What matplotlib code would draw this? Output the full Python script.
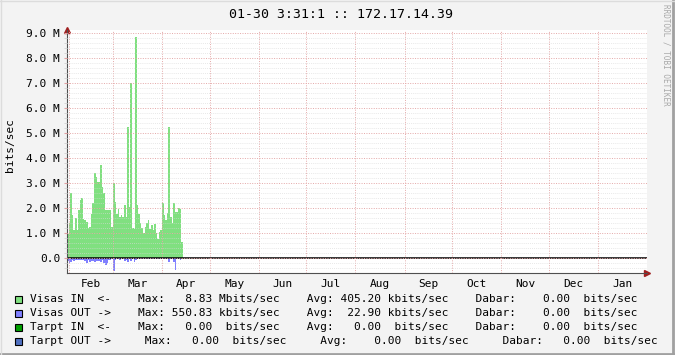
import numpy as np
import matplotlib
matplotlib.use('Agg')
import matplotlib.pyplot as plt
from matplotlib.ticker import MultipleLocator, FuncFormatter, FixedLocator
from matplotlib.lines import Line2D

# daily traffic, Mbit/s, starting 01-31
visas_in = [0.95, 1.4, 2.6, 1.7, 1.1, 1.6, 1.1, 1.9, 2.3, 2.4,
            1.55, 1.5, 1.45, 1.2, 1.25, 1.75, 2.2, 3.4, 3.25, 3.05,
            3.05, 3.7, 2.85, 2.6, 1.9, 1.9, 1.9, 1.9, 1.25, 3.0,
            2.25, 1.75, 1.95, 1.65, 1.7, 1.65, 2.1, 1.65, 5.25, 2.05,
            7.0, 1.2, 1.15, 8.83, 2.1, 1.75, 1.4, 1.2, 1.0, 1.25,
            1.4, 1.5, 1.15, 1.3, 1.1, 1.35, 1.0, 0.75, 1.05, 1.1,
            2.2, 1.7, 1.5, 1.8, 5.25, 1.65, 1.4, 2.2, 1.85, 1.85,
            2.0, 1.95, 0.65]
visas_out = [0.12, 0.2, 0.15, 0.1, 0.12, 0.1, 0.1, 0.08, 0.1, 0.1,
             0.1, 0.12, 0.2, 0.1, 0.15, 0.12, 0.12, 0.18, 0.12, 0.14,
             0.12, 0.15, 0.1, 0.2, 0.28, 0.2, 0.08, 0.1, 0.05, 0.53,
             0.08, 0.06, 0.06, 0.08, 0.05, 0.06, 0.12, 0.08, 0.15, 0.06,
             0.12, 0.05, 0.15, 0.08, 0.05, 0.06, 0.05, 0.05, 0.06, 0.05,
             0.05, 0.05, 0.05, 0.05, 0.03, 0.05, 0.04, 0.04, 0.03, 0.03,
             0.06, 0.03, 0.04, 0.05, 0.15, 0.05, 0.04, 0.15, 0.5, 0.05,
             0.05, 0.08, 0.02]

month_names = ['Feb', 'Mar', 'Apr', 'May', 'Jun', 'Jul',
               'Aug', 'Sep', 'Oct', 'Nov', 'Dec', 'Jan']
month_days = [28, 31, 30, 31, 30, 31, 31, 30, 31, 30, 31, 31]

legend_colors = ['#80e080', '#8080ff', '#00a000', '#5070c0']
legend_lines = [
    'Visas IN  <-    Max:   8.83 Mbits/sec    Avg: 405.20 kbits/sec    Dabar:    0.00  bits/sec',
    'Visas OUT ->    Max: 550.83 kbits/sec    Avg:  22.90 kbits/sec    Dabar:    0.00  bits/sec',
    'Tarpt IN  <-    Max:   0.00  bits/sec    Avg:   0.00  bits/sec    Dabar:    0.00  bits/sec',
    'Tarpt OUT ->     Max:   0.00  bits/sec     Avg:    0.00  bits/sec     Dabar:   0.00  bits/sec',
]

W, H = 675, 355
mono = 'DejaVu Sans Mono'

fig = plt.figure(figsize=(W / 100, H / 100), dpi=100, facecolor='#f3f3f3')
ax = fig.add_axes([67 / W, 1 - 273 / H, 580 / W, 243 / H])
ax.set_facecolor('white')

# stepped areas like rrdtool AREA
edges = np.arange(len(visas_in) + 1)
ax.fill_between(edges, visas_in + visas_in[-1:], step='post', color=legend_colors[0], linewidth=0)
ax.fill_between(edges, -np.array(visas_out + visas_out[-1:]), step='post', color=legend_colors[1], linewidth=0)

ax.set_xlim(0, 366)
ax.set_ylim(-0.6, 9.12)

starts = 1 + np.cumsum([0] + month_days[:-1])
mids = starts + np.array(month_days) / 2.0
ax.xaxis.set_major_locator(FixedLocator(starts))
ax.xaxis.set_major_formatter(FuncFormatter(lambda v, p: ''))
ax.set_xticks(mids, month_names, minor=True)
ax.tick_params(axis='x', which='both', length=0, pad=4, labelsize=8)

ax.yaxis.set_major_locator(MultipleLocator(1.0))
ax.yaxis.set_minor_locator(FixedLocator(np.arange(-0.4, 9.01, 0.2)))
ax.yaxis.set_major_formatter(FuncFormatter(lambda v, p: '0.0' if abs(v) < 1e-9 else ('%.1f M' % v if v > 0 else '')))
ax.tick_params(axis='y', which='major', length=2, color='#e0a0a0', pad=3, labelsize=8)
ax.tick_params(axis='y', which='minor', length=2, color='#d0d0d0')
for lab in ax.get_xticklabels(minor=True) + ax.get_yticklabels():
    lab.set_family(mono)

ax.set_axisbelow(False)
ax.grid(which='minor', axis='y', color='#d8d8d8', alpha=0.8, linestyle=(0, (1, 1.5)), linewidth=0.6)
ax.grid(which='major', axis='y', color='#e4a8a8', linestyle=(0, (1, 1.5)), linewidth=0.7)
ax.grid(which='major', axis='x', color='#e4a8a8', linestyle=(0, (1, 1.5)), linewidth=0.7)
ax.axhline(0, color='black', linewidth=1.1)

for s in ['top', 'right']:
    ax.spines[s].set_visible(False)
ax.spines['left'].set_color('#505050')
ax.spines['bottom'].set_color('#505050')
ax.plot([0], [1.0], marker='^', color='#a02020', markersize=5, transform=ax.transAxes, clip_on=False)
ax.plot([1.0], [0], marker='>', color='#a02020', markersize=5, transform=ax.transAxes, clip_on=False)

fig.text(341 / W, 1 - 15 / H, '01-30 3:31:1 :: 172.17.14.39', ha='center', va='center',
         family=mono, fontsize=9.5)
fig.text(10 / W, 1 - 145 / H, 'bits/sec', rotation=90, ha='center', va='center',
         family=mono, fontsize=8)
fig.text(666 / W, 1 - 4 / H, 'RRDTOOL / TOBI OETIKER', rotation=270, ha='center', va='top',
         family=mono, fontsize=5.5, color='#a8a8a8')

for i, (c, line) in enumerate(zip(legend_colors, legend_lines)):
    y = 299 + 14 * i
    fig.patches.append(plt.Rectangle((15 / W, 1 - (y + 3.5) / H), 7 / W, 7 / H, transform=fig.transFigure,
                                     facecolor=c, edgecolor='black', linewidth=0.8))
    fig.text(30 / W, 1 - y / H, line, ha='left', va='center', family=mono, fontsize=8)

# frame
fig.add_artist(Line2D([0, 1], [0.003, 0.003], transform=fig.transFigure, color='#a0a0a0', lw=2))
fig.add_artist(Line2D([0.997, 0.997], [0, 1], transform=fig.transFigure, color='#a0a0a0', lw=2))
fig.add_artist(Line2D([0, 1], [0.998, 0.998], transform=fig.transFigure, color='#dcdcdc', lw=1))
fig.add_artist(Line2D([0.001, 0.001], [0, 1], transform=fig.transFigure, color='#dcdcdc', lw=1))

fig.savefig('out.png', dpi=100, facecolor=fig.get_facecolor())
